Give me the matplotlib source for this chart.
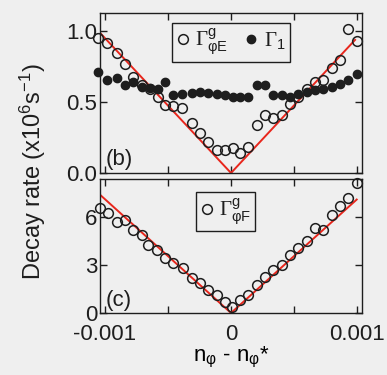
import matplotlib
matplotlib.use("Agg")
import matplotlib.pyplot as plt
from matplotlib.ticker import FixedLocator, NullFormatter

# ---- DATA (x in units of 1e-3) ----
x_top = [-1.053, -0.987, -0.907, -0.841, -0.775, -0.709, -0.643, -0.577,
         -0.524, -0.458, -0.391, -0.312, -0.246, -0.180, -0.113, -0.048,
         0.018, 0.071, 0.137, 0.204, 0.270, 0.336, 0.402, 0.468,
         0.534, 0.601, 0.667, 0.733, 0.799, 0.865, 0.931, 0.998]
gamma_phiE = [0.955, 0.92, 0.85, 0.77, 0.68, 0.62, 0.59, 0.54,
              0.48, 0.47, 0.46, 0.35, 0.28, 0.22, 0.16, 0.165,
              0.175, 0.14, 0.185, 0.34, 0.41, 0.39, 0.41, 0.49,
              0.54, 0.59, 0.64, 0.66, 0.74, 0.80, 1.02, 0.93]
gamma_1 = [0.71, 0.66, 0.67, 0.625, 0.64, 0.61, 0.60, 0.59,
           0.645, 0.55, 0.56, 0.565, 0.575, 0.565, 0.56, 0.55,
           0.54, 0.535, 0.535, 0.62, 0.62, 0.55, 0.55, 0.54,
           0.56, 0.575, 0.585, 0.595, 0.61, 0.63, 0.655, 0.70]
fit_top_x = [-1.04, 0.0, 0.985]
fit_top_y = [0.99, 0.0, 0.94]

x_bot = [-1.040, -0.974, -0.907, -0.841, -0.775, -0.709, -0.656, -0.590,
         -0.524, -0.458, -0.379, -0.312, -0.246, -0.180, -0.113, -0.048,
         0.006, 0.071, 0.137, 0.204, 0.270, 0.336, 0.402, 0.468,
         0.534, 0.601, 0.667, 0.733, 0.799, 0.865, 0.931, 0.998]
gamma_phiF = [6.54, 6.23, 5.64, 5.81, 5.19, 4.88, 4.25, 3.94,
              3.42, 3.11, 2.79, 2.17, 1.86, 1.44, 1.13, 0.71,
              0.39, 0.81, 1.13, 1.75, 2.27, 2.69, 3.00, 3.63,
              4.04, 4.46, 5.29, 5.19, 6.13, 6.64, 7.17, 8.11]
fit_bot_x = [-1.04, 0.0, 0.998]
fit_bot_y = [7.37, 0.0, 7.07]

x_major = [-0.001, 0.0, 0.001]
x_major_labels = ["-0.001", "0", "0.001"]
x_minor = [-0.0005, 0.0005]

BG = "#efefef"
INK = "#1e1e1e"
RED = "#e8261c"
FS = 16

plt.rcParams["font.family"] = ["Liberation Sans", "DejaVu Sans"]
plt.rcParams["mathtext.fontset"] = "custom"
plt.rcParams["mathtext.rm"] = "Liberation Serif"
plt.rcParams["mathtext.sf"] = "Liberation Sans"
plt.rcParams["mathtext.it"] = "Liberation Sans:italic"
plt.rcParams["text.color"] = INK
plt.rcParams["axes.edgecolor"] = INK
plt.rcParams["xtick.color"] = INK
plt.rcParams["ytick.color"] = INK

fig = plt.figure(figsize=(3.87, 3.75), dpi=100, facecolor=BG)
ax1 = fig.add_axes([100 / 387, 1 - 173 / 375, 262 / 387, 160 / 375])
ax2 = fig.add_axes([100 / 387, 1 - 313 / 375, 262 / 387, 134 / 375])

xs_top = [v * 1e-3 for v in x_top]
xs_bot = [v * 1e-3 for v in x_bot]

# -----------------------------
# (b) panel
# -----------------------------
ax1.plot([v * 1e-3 for v in fit_top_x], fit_top_y, color=RED, lw=1.4, zorder=2)
ax1.plot(xs_top, gamma_phiE, "o", mfc="none", mec=INK, mew=1.1, ms=7,
         clip_on=False, zorder=3, label=r"$\Gamma^{\mathsf{g}}_{\mathsf{φE}}$")
ax1.plot(xs_top, gamma_1, "o", color=INK, ms=6, clip_on=False, zorder=3,
         label=r"$\Gamma_{\mathsf{1}}$")
ax1.set_ylim(0, 1.13)
ax1.set_yticks([0, 0.5, 1.0])
ax1.set_yticklabels(["0.0", "0.5", "1.0"])
ax1.text(0.02, 0.05, "(b)", transform=ax1.transAxes, fontsize=FS)
leg1 = ax1.legend(loc="upper center", bbox_to_anchor=(0.5, 0.94), ncol=2,
                  fontsize=15, handlelength=0.6, handletextpad=0.3,
                  columnspacing=0.8, borderpad=0.2, fancybox=False,
                  framealpha=1, borderaxespad=0)
leg1.get_frame().set_edgecolor(INK)
leg1.get_frame().set_facecolor(BG)
leg1.get_frame().set_linewidth(1.0)

# -----------------------------
# (c) panel
# -----------------------------
ax2.plot([v * 1e-3 for v in fit_bot_x], fit_bot_y, color=RED, lw=1.4, zorder=2)
ax2.plot(xs_bot, gamma_phiF, "o", mfc="none", mec=INK, mew=1.1, ms=7,
         clip_on=False, zorder=3, label=r"$\Gamma^{\mathsf{g}}_{\mathsf{φF}}$")
ax2.set_ylim(0, 8.35)
ax2.set_yticks([0, 3, 6])
ax2.text(0.02, 0.05, "(c)", transform=ax2.transAxes, fontsize=FS)
leg2 = ax2.legend(loc="upper center", bbox_to_anchor=(0.48, 0.9), ncol=1,
                  fontsize=15, handlelength=0.6, handletextpad=0.3,
                  borderpad=0.2, fancybox=False, framealpha=1, borderaxespad=0)
leg2.get_frame().set_edgecolor(INK)
leg2.get_frame().set_facecolor(BG)
leg2.get_frame().set_linewidth(1.0)

for ax in (ax1, ax2):
    ax.set_facecolor(BG)
    ax.set_xlim(-0.00104, 0.00104)
    ax.xaxis.set_major_locator(FixedLocator(x_major))
    ax.xaxis.set_minor_locator(FixedLocator(x_minor))
    ax.tick_params(which="both", direction="in", top=True, right=True,
                   length=5, width=1.0, labelsize=FS, pad=2)
    for s in ax.spines.values():
        s.set_linewidth(1.0)

ax1.xaxis.set_major_formatter(NullFormatter())
ax2.set_xticklabels(x_major_labels)
ax2.tick_params(axis="x", which="major", pad=8)
ax2.set_xlabel(r"n$_{\mathsf{φ}}$ - n$_{\mathsf{φ}}$*", fontsize=FS, labelpad=0)

fig.text(33 / 387, 1 - 172 / 375, r"Decay rate (x10$^{\mathsf{6}}$s$^{\mathsf{-1}}$)",
         rotation=90, ha="center", va="center", fontsize=17)

fig.savefig("out.png", dpi=100, facecolor=BG)
